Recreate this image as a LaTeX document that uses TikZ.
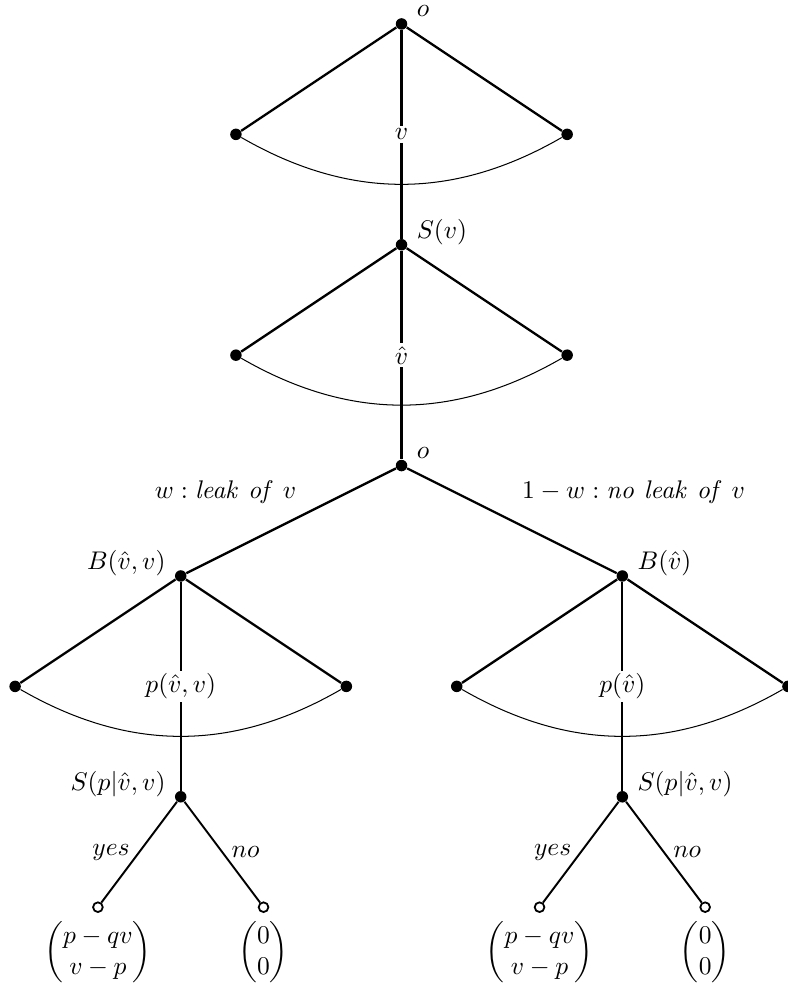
\documentclass[tikz,border=0pt]{standalone}
\usepackage{amsmath}
\usetikzlibrary{positioning}

\begin{document}
\begin{tikzpicture}[x=1.52cm, y=1.52cm]
    % Define node styles
    \tikzstyle{dot}=[circle, fill, inner sep=0pt, minimum size=4.5pt]
    \tikzstyle{leaf}=[circle, draw, fill=white, line width=0.7pt, inner sep=0pt, minimum size=3.8pt]
    \tikzstyle{move}=[fill=white, inner sep=1pt]
    \tikzstyle{branch}=[line width=0.9pt]
    \tikzstyle{choice}=[line width=0.75pt]
    \tikzstyle{info}=[thin, bend right=30]
    \tikzset{every label/.style={yshift=5pt}}

    \useasboundingbox (-3.637,0.217) rectangle (3.492,-8.732);

    % Nature draws v
    \node[dot, label=right:$o$] (O-1) at (0,0) {};
    \node[dot] (L-1) at (-1.5,-1) {};
    \node[dot] (R-1) at (1.5,-1) {};
    \node[move] (M-1) at (0,-1) {$v$};
    \node[dot, label=right:$S(v)$] (S-1) at (0,-2) {};
    \draw[branch] (L-1) -- (O-1) -- (R-1);
    \draw[branch] (O-1) -- (M-1) -- (S-1);
    \draw[info] (L-1) to (R-1);

    % Seller announces v-hat
    \node[dot] (L-2) at (-1.5,-3) {};
    \node[dot] (R-2) at (1.5,-3) {};
    \node[move] (M-2) at (0,-3) {$\hat{v}$};
    \node[dot, label=right:$o$] (O-2) at (0,-4) {};
    \draw[branch] (L-2) -- (S-1) -- (R-2);
    \draw[branch] (S-1) -- (M-2) -- (O-2);
    \draw[info] (L-2) to (R-2);

    % Draw both buyer subtrees
    \foreach \s/\x/\a/\B/\P in {lk/-2/180/{B(\hat{v},v)}/{p(\hat{v},v)}, nl/2/0/{B(\hat{v})}/{p(\hat{v})}} {
        \node[dot, label={\a:$\B$}] (B-\s) at (\x,-5) {};
        \node[dot] (L-\s) at (\x-1.5,-6) {};
        \node[dot] (R-\s) at (\x+1.5,-6) {};
        \node[move] (M-\s) at (\x,-6) {$\P$};
        \node[dot, label={\a:$S(p|\hat{v},v)$}] (S-\s) at (\x,-7) {};
        \node[leaf] (yes-\s) at (\x-0.75,-8) {};
        \node[leaf] (no-\s) at (\x+0.75,-8) {};
        \draw[branch] (L-\s) -- (B-\s) -- (R-\s);
        \draw[branch] (B-\s) -- (M-\s) -- (S-\s);
        \draw[info] (L-\s) to (R-\s);
        \draw[choice] (S-\s) -- node[left] {$yes$} (yes-\s);
        \draw[choice] (S-\s) -- node[right] {$no$} (no-\s);
        \node[below=0pt of yes-\s] (P-yes-\s) {$\begin{pmatrix} p-qv \\ v-p \end{pmatrix}$};
        \node[below=0pt of no-\s] (P-no-\s) {$\begin{pmatrix} 0 \\ 0 \end{pmatrix}$};
    }

    % Leak or no leak
    \draw[branch] (O-2) -- node[pos=0.43, above left] {$w: \mathit{leak\ of}\ v$} (B-lk);
    \draw[branch] (O-2) -- node[pos=0.43, above right, xshift=6pt] {$1-w: \mathit{no\ leak\ of}\ v$} (B-nl);
\end{tikzpicture}
\end{document}
